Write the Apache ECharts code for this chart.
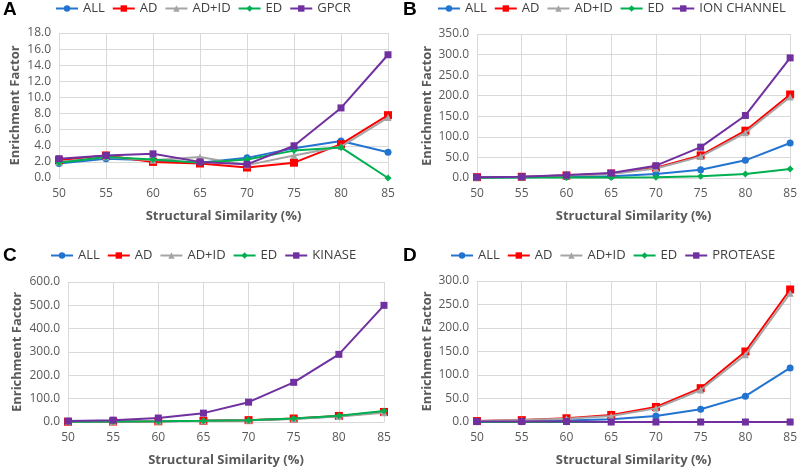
<!DOCTYPE html>
<html><head><meta charset="utf-8">
<script src="https://cdn.jsdelivr.net/npm/echarts@6/dist/echarts.min.js"></script>
<style>html,body{margin:0;padding:0;background:#fff}#c{width:800px;height:468px}</style>
</head><body><div id="c"></div>
<script>
const categories = ['50','55','60','65','70','75','80','85'];
const seriesNames = ['ALL','AD','AD+ID','ED'];
const panelTargets = ['GPCR','ION CHANNEL','KINASE','PROTEASE'];

// Panel A (GPCR)
const A_ALL   = [1.8, 2.4, 2.2, 1.9, 2.5, 3.7, 4.6, 3.2];
const A_AD    = [2.2, 2.8, 2.0, 1.8, 1.3, 1.9, 4.2, 7.8];
const A_ADID  = [2.0, 2.6, 2.2, 2.6, 1.6, 2.8, 3.9, 7.5];
const A_ED    = [1.9, 2.6, 2.3, 1.9, 2.3, 3.4, 3.8, 0.0];
const A_TGT   = [2.4, 2.8, 3.0, 2.0, 1.7, 4.0, 8.7, 15.3];
// Panel B (ION CHANNEL)
const B_ALL   = [1, 2, 3, 4, 10, 20, 43, 85];
const B_AD    = [2, 3, 6, 11, 25, 55, 115, 203];
const B_ADID  = [2, 3, 6, 10, 23, 52, 110, 197];
const B_ED    = [0.5, 1, 1, 1, 2, 4, 10, 22];
const B_TGT   = [2, 3, 7, 12, 30, 75, 152, 292];
// Panel C (KINASE)
const C_ALL   = [1, 2, 3, 5, 8, 14, 25, 45];
const C_AD    = [1, 2, 3, 5, 8, 15, 26, 43];
const C_ADID  = [1, 2, 3, 4, 7, 13, 24, 40];
const C_ED    = [1, 2, 3, 5, 8, 15, 27, 47];
const C_TGT   = [4, 8, 17, 38, 85, 170, 290, 500];
// Panel D (PROTEASE)
const D_ALL   = [1, 2, 3, 6, 13, 27, 55, 115];
const D_AD    = [2, 4, 8, 15, 32, 72, 150, 282];
const D_ADID  = [2, 4, 7, 13, 29, 68, 143, 274];
const D_ED    = [0, 0, 0, 0, 0, 0, 0, 0];
const D_TGT   = [1, 1, 1, 0, 0, 0, 0, 0];

const yMax = [18, 350, 600, 300];
const yInterval = [2, 50, 100, 50];

const panelData = [
  [A_ALL, A_AD, A_ADID, A_ED, A_TGT],
  [B_ALL, B_AD, B_ADID, B_ED, B_TGT],
  [C_ALL, C_AD, C_ADID, C_ED, C_TGT],
  [D_ALL, D_AD, D_ADID, D_ED, D_TGT]
];

const colors = ['#2374D1', '#FF0000', '#A5A5A5', '#00B050', '#7030A0'];
const symbols = ['circle', 'rect', 'triangle', 'diamond', 'rect'];
const symSizes = [7, 8, 7, 7, 7];

const grids = [
  {left: 59, right: 412, top: 33, bottom: 290},
  {left: 477, right: 5, top: 34, bottom: 290},
  {left: 68, right: 416, top: 282, bottom: 44},
  {left: 477, right: 7, top: 281, bottom: 43}
];
const yNameGap = [37, 43, 44, 43];
const legendPos = [
  {left: 55, top: 2}, {left: 437, top: 2}, {left: 50, top: 249}, {left: 450, top: 249}
];
const letters = ['A','B','C','D'];
const letterPos = [[3,0],[403,0],[3,246],[403,246]];

const labelColor = '#595959';
const font = '"Open Sans", "Noto Sans", sans-serif';

const option = {
  animation: false,
  backgroundColor: '#fff',
  grid: grids,
  xAxis: grids.map((g, i) => ({
    type: 'category', gridIndex: i, data: categories, boundaryGap: false,
    name: 'Structural Similarity (%)', nameLocation: 'middle', nameGap: 32,
    nameTextStyle: {color: labelColor, fontWeight: 'bold', fontSize: 13, fontFamily: font},
    axisLine: {lineStyle: {color: '#D9D9D9', width: 1}},
    axisTick: {show: false},
    axisLabel: {color: labelColor, fontSize: 12, margin: 10, fontFamily: font},
    splitLine: {show: true, lineStyle: {color: '#D9D9D9', width: 1}}
  })),
  yAxis: grids.map((g, i) => ({
    type: 'value', gridIndex: i, min: 0, max: yMax[i], interval: yInterval[i],
    name: 'Enrichment Factor', nameLocation: 'middle', nameGap: yNameGap[i], nameRotate: 90,
    nameTextStyle: {color: labelColor, fontWeight: 'bold', fontSize: 13, fontFamily: font},
    axisLine: {show: false}, axisTick: {show: false},
    axisLabel: {color: labelColor, fontSize: 12, margin: 8, fontFamily: font,
      formatter: v => v.toFixed(1)},
    splitLine: {show: true, lineStyle: {color: '#D9D9D9', width: 1}}
  })),
  legend: legendPos.map((p, i) => ({
    left: p.left, top: p.top, padding: 0, width: 380,
    itemWidth: 22, itemHeight: 8, itemGap: 7,
    textStyle: {color: '#404040', fontSize: 13, fontFamily: font},
    data: seriesNames.concat([panelTargets[i]])
  })),
  graphic: letters.map((t, i) => ({
    type: 'text', left: letterPos[i][0], top: letterPos[i][1],
    style: {text: t, font: 'bold 19px "Liberation Sans", Arial, sans-serif', fill: '#000'}
  })),
  series: []
};

panelData.forEach((arr, p) => {
  const names = seriesNames.concat([panelTargets[p]]);
  arr.forEach((vals, s) => {
    option.series.push({
      type: 'line', name: names[s], xAxisIndex: p, yAxisIndex: p,
      data: vals, symbol: symbols[s], symbolSize: symSizes[s], showSymbol: true,
      lineStyle: {color: colors[s], width: 2},
      itemStyle: {color: colors[s]},
      z: 2 + s
    });
  });
});

const chart = echarts.init(document.getElementById('c'), null, {renderer: 'canvas'});
chart.setOption(option);
</script>
</body></html>
